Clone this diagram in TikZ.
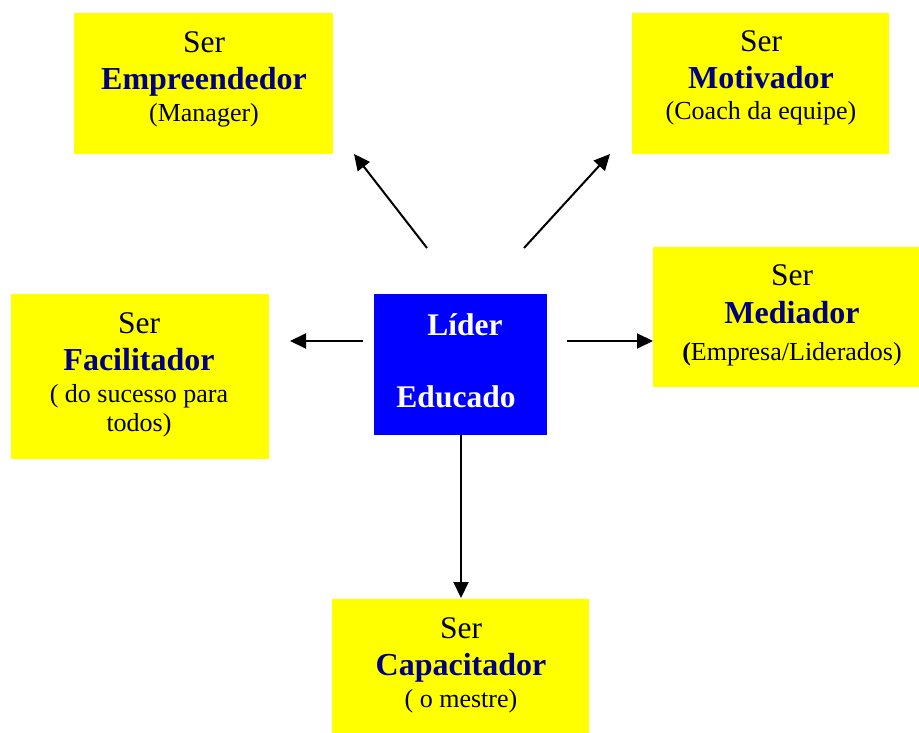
\documentclass[tikz,border=0pt]{standalone}
\usepackage{fontspec}
\setmainfont{Liberation Serif}
\usetikzlibrary{arrows.meta}
\definecolor{boxyellow}{HTML}{FFFF00}
\definecolor{boxblue}{HTML}{0000FF}
\definecolor{navy}{HTML}{000080}
\tikzset{
  ybox/.style={fill=boxyellow, draw=none, inner sep=0pt},
  bbox/.style={fill=boxblue, draw=none, inner sep=0pt},
  sertxt/.style={anchor=base, inner sep=0pt, font=\fontsize{31.5}{36}\selectfont},
  titletxt/.style={anchor=base, inner sep=0pt, text=navy, font=\fontsize{32}{36}\selectfont\bfseries},
  subtxt/.style={anchor=base, inner sep=0pt, font=\fontsize{26}{30}\selectfont},
  lidertxt/.style={anchor=base, inner sep=0pt, text=white, font=\fontsize{31.5}{36}\selectfont\bfseries},
  arr/.style={-{Triangle[length=16pt,width=15pt]}, line width=2pt, black},
}
\begin{document}
\begin{tikzpicture}[x=1pt,y=-1pt]
\useasboundingbox (0,0) rectangle (919,733);
% boxes
\path[ybox] (74,13) rectangle (333,154); \node[inner sep=0pt] (emp) at (203.5,83.5) {};
\path[ybox] (632,13) rectangle (889,154); \node[inner sep=0pt] (mot) at (760.5,83.5) {};
\path[ybox] (11,294) rectangle (269,459); \node[inner sep=0pt] (fac) at (140,376.5) {};
\path[ybox] (653,247) rectangle (919,387); \node[inner sep=0pt] (med) at (786,317) {};
\path[ybox] (332,599) rectangle (589,733); \node[inner sep=0pt] (cap) at (460.5,666) {};
\path[bbox] (374,294) rectangle (547,435); \node[inner sep=0pt] (lid) at (460.5,364.5) {};
% texts
\node[sertxt] (empA) at (204,53) {Ser};
\node[titletxt] (empB) at (204,90) {Empreendedor};
\node[subtxt] (empC) at (204,122) {(Manager)};

\node[sertxt] (motA) at (761,52) {Ser};
\node[titletxt] (motB) at (761,89) {Motivador};
\node[subtxt] (motC) at (761,120) {(Coach da equipe)};

\node[sertxt] (facA) at (139,333) {Ser};
\node[titletxt] (facB) at (139,370) {Facilitador};
\node[subtxt] (facC) at (139,402) {( do sucesso para};
\node[subtxt] (facD) at (139,431) {todos)};

\node[sertxt] (medA) at (792,285) {Ser};
\node[titletxt] (medB) at (792,323) {Mediador};
\node[subtxt] (medC) at (792,360) {\textbf{(}Empresa/Liderados)};

\node[sertxt] (capA) at (461,638) {Ser};
\node[titletxt] (capB) at (461,675) {Capacitador};
\node[subtxt] (capC) at (461,707) {( o mestre)};

\node[lidertxt] (lidA) at (465,335) {Líder};
\node[lidertxt] (lidB) at (456,407) {Educado};
% arrow ends
\coordinate (a1s) at (427,248); \coordinate (a1e) at (354,154);
\coordinate (a2s) at (524,248); \coordinate (a2e) at (610,154);
\coordinate (a3s) at (363,341); \coordinate (a3e) at (290,341);
\coordinate (a4s) at (567,341); \coordinate (a4e) at (653,341);
\coordinate (a5s) at (461,435); \coordinate (a5e) at (461,598);
\draw[arr] (a1s) -- (a1e);
\draw[arr] (a2s) -- (a2e);
\draw[arr] (a3s) -- (a3e);
\draw[arr] (a4s) -- (a4e);
\draw[arr] (a5s) -- (a5e);
\end{tikzpicture}
\end{document}
